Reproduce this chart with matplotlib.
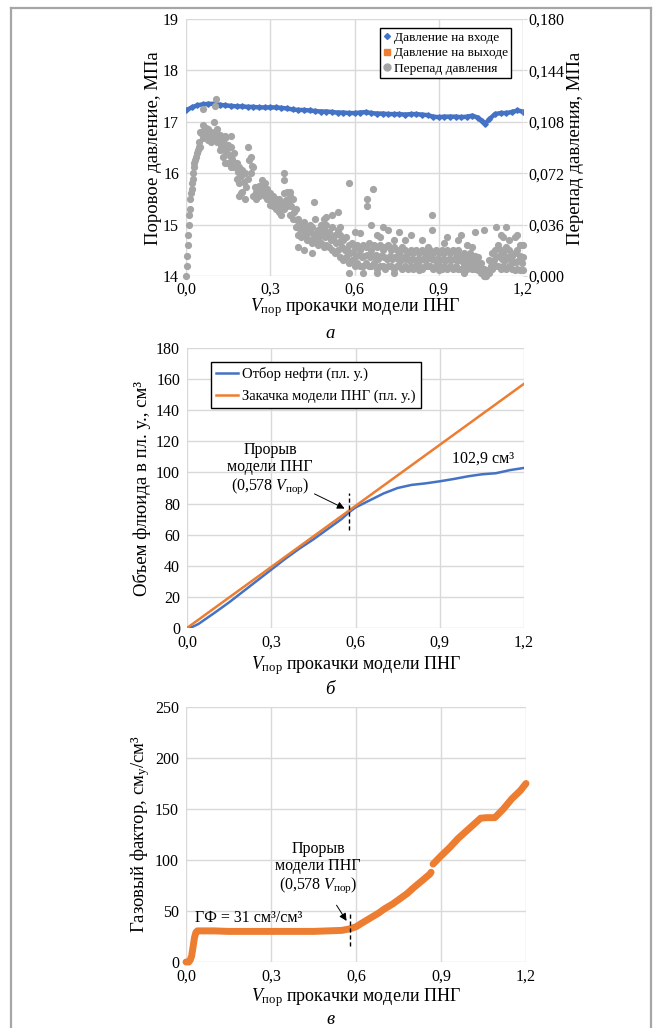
import numpy as np
import matplotlib.pyplot as plt
from matplotlib.lines import Line2D

plt.rcParams['font.family'] = ['Liberation Serif', 'DejaVu Serif']
plt.rcParams['mathtext.fontset'] = 'custom'
plt.rcParams['mathtext.rm'] = 'Liberation Serif'
plt.rcParams['mathtext.it'] = 'Liberation Serif:italic'

W, H = 653, 1028
BLUE = '#4472C4'
ORANGE = '#ED7D31'
GRAY = '#A5A5A5'
GRID = '#D9D9D9'

# ---- panel a: inlet pressure (left axis, MPa) ----
inlet_x = [0.00, 0.02, 0.04, 0.06, 0.08, 0.10, 0.12, 0.14, 0.16, 0.18,
           0.20, 0.22, 0.24, 0.26, 0.28, 0.30, 0.32, 0.34, 0.36, 0.38,
           0.40, 0.42, 0.44, 0.46, 0.48, 0.50, 0.52, 0.54, 0.56, 0.58,
           0.60, 0.62, 0.64, 0.66, 0.68, 0.70, 0.72, 0.74, 0.76, 0.78,
           0.80, 0.82, 0.84, 0.86, 0.88, 0.90, 0.92, 0.94, 0.96, 0.98,
           1.00, 1.02, 1.04, 1.055, 1.065, 1.08, 1.10, 1.12, 1.14, 1.16,
           1.18, 1.20]
inlet_p = [17.22, 17.28, 17.32, 17.34, 17.35, 17.35, 17.33, 17.32, 17.31, 17.30,
           17.30, 17.29, 17.29, 17.28, 17.28, 17.28, 17.28, 17.27, 17.26, 17.24,
           17.23, 17.23, 17.22, 17.21, 17.20, 17.20, 17.19, 17.18, 17.18, 17.17,
           17.17, 17.18, 17.19, 17.17, 17.16, 17.16, 17.15, 17.15, 17.15, 17.14,
           17.15, 17.15, 17.14, 17.13, 17.10, 17.09, 17.10, 17.10, 17.10, 17.09,
           17.10, 17.12, 17.08, 17.01, 16.96, 17.05, 17.15, 17.17, 17.17, 17.19,
           17.22, 17.20]

# ---- panel a: pressure drop (right axis, MPa) ----
drop_start_x = [0.000, 0.002, 0.004, 0.006, 0.008, 0.010, 0.012, 0.014, 0.016, 0.018,
                0.020, 0.022, 0.024, 0.026, 0.028, 0.030, 0.033, 0.036, 0.039, 0.042,
                0.045, 0.048]
drop_start = [0.000, 0.007, 0.014, 0.022, 0.029, 0.036, 0.043, 0.047, 0.054, 0.058,
              0.061, 0.065, 0.068, 0.072, 0.076, 0.079, 0.081, 0.083, 0.086, 0.088,
              0.090, 0.094]

# upper edge of the dense band, x = 0.05 ... 1.20 step 0.01
drop_hi = [0.101, 0.106, 0.104, 0.103, 0.101, 0.108, 0.103, 0.099, 0.094, 0.097,
           0.090, 0.090, 0.086, 0.079, 0.076, 0.074, 0.072, 0.090, 0.083, 0.076,
           0.059, 0.063, 0.067, 0.065, 0.061, 0.058, 0.056, 0.054, 0.054, 0.052,
           0.058, 0.059, 0.056, 0.054, 0.047, 0.040, 0.036, 0.038, 0.034, 0.036,
           0.034, 0.040, 0.032, 0.036, 0.032, 0.036, 0.031, 0.034, 0.029, 0.032,
           0.029, 0.025, 0.027, 0.022, 0.023, 0.020, 0.022, 0.018, 0.022, 0.020,
           0.023, 0.018, 0.022, 0.020, 0.022, 0.018, 0.020, 0.022, 0.018, 0.020,
           0.018, 0.016, 0.020, 0.018, 0.016, 0.018, 0.016, 0.018, 0.016, 0.018,
           0.016, 0.020, 0.018, 0.016, 0.018, 0.016, 0.018, 0.016, 0.018, 0.016,
           0.018, 0.016, 0.018, 0.014, 0.016, 0.014, 0.016, 0.014, 0.014, 0.013,
           0.009, 0.005, 0.004, 0.011, 0.016, 0.018, 0.022, 0.018, 0.016, 0.020,
           0.018, 0.014, 0.016, 0.018, 0.014, 0.013]
# lower edge of the band, same x
drop_lo = [0.090, 0.097, 0.099, 0.095, 0.094, 0.097, 0.094, 0.088, 0.083, 0.079,
           0.079, 0.076, 0.076, 0.068, 0.065, 0.059, 0.054, 0.068, 0.072, 0.056,
           0.054, 0.056, 0.059, 0.056, 0.054, 0.050, 0.049, 0.047, 0.045, 0.043,
           0.047, 0.049, 0.043, 0.040, 0.034, 0.029, 0.027, 0.029, 0.025, 0.025,
           0.023, 0.025, 0.022, 0.023, 0.020, 0.022, 0.020, 0.018, 0.016, 0.018,
           0.013, 0.011, 0.013, 0.009, 0.011, 0.007, 0.009, 0.007, 0.007, 0.009,
           0.007, 0.007, 0.009, 0.005, 0.007, 0.007, 0.005, 0.007, 0.007, 0.005,
           0.007, 0.007, 0.005, 0.007, 0.005, 0.007, 0.005, 0.007, 0.007, 0.005,
           0.007, 0.007, 0.007, 0.005, 0.007, 0.007, 0.005, 0.007, 0.005, 0.007,
           0.005, 0.007, 0.005, 0.005, 0.007, 0.005, 0.007, 0.005, 0.005, 0.004,
           0.002, 0.000, 0.000, 0.002, 0.005, 0.007, 0.007, 0.005, 0.007, 0.005,
           0.007, 0.005, 0.004, 0.005, 0.004, 0.004]
# middle of the band, x = 0.055 ... 1.195 step 0.01
drop_mid = [0.100, 0.102, 0.100, 0.098, 0.099, 0.101, 0.097, 0.091, 0.088, 0.086,
            0.084, 0.082, 0.079, 0.073, 0.070, 0.066, 0.062, 0.081, 0.077, 0.062,
            0.057, 0.060, 0.063, 0.060, 0.057, 0.054, 0.052, 0.050, 0.049, 0.050,
            0.053, 0.052, 0.049, 0.045, 0.039, 0.033, 0.032, 0.032, 0.030, 0.031,
            0.029, 0.030, 0.027, 0.029, 0.027, 0.028, 0.025, 0.026, 0.023, 0.024,
            0.020, 0.018, 0.019, 0.016, 0.017, 0.014, 0.015, 0.013, 0.014, 0.015,
            0.013, 0.014, 0.015, 0.012, 0.014, 0.013, 0.012, 0.014, 0.012, 0.013,
            0.012, 0.011, 0.013, 0.012, 0.011, 0.012, 0.011, 0.012, 0.011, 0.012,
            0.011, 0.013, 0.012, 0.011, 0.012, 0.011, 0.012, 0.011, 0.012, 0.011,
            0.012, 0.011, 0.011, 0.010, 0.011, 0.010, 0.011, 0.010, 0.009, 0.008,
            0.005, 0.002, 0.003, 0.007, 0.011, 0.013, 0.014, 0.012, 0.011, 0.013,
            0.012, 0.010, 0.010, 0.011, 0.009]
# scattered single points
drop_out_x = [0.108, 0.104, 0.062, 0.14, 0.16, 0.15, 0.19, 0.196, 0.35, 0.35,
              0.37, 0.457, 0.58, 0.54, 0.50, 0.49, 0.52, 0.643, 0.643, 0.667,
              0.66, 0.70, 0.72, 0.76, 0.80, 0.875, 0.875, 0.93, 0.97, 0.98,
              1.03, 1.06, 1.105, 1.14, 1.13, 1.17, 1.19, 0.40, 0.42, 0.45,
              0.58, 0.63, 0.68, 0.74, 0.83, 0.90, 0.99, 1.065, 0.55, 0.60,
              0.62, 0.68, 0.69, 0.74, 0.78, 0.84, 0.92, 1.00, 1.02, 1.12,
              1.15, 1.18, 1.20]
drop_out = [0.124, 0.119, 0.117, 0.098, 0.098, 0.092, 0.056, 0.058, 0.072, 0.067,
            0.059, 0.052, 0.065, 0.045, 0.041, 0.040, 0.043, 0.054, 0.049, 0.061,
            0.036, 0.034, 0.032, 0.031, 0.029, 0.043, 0.032, 0.027, 0.025, 0.029,
            0.031, 0.032, 0.034, 0.034, 0.027, 0.027, 0.022, 0.020, 0.018, 0.016,
            0.002, 0.002, 0.002, 0.002, 0.004, 0.004, 0.002, 0.000, 0.034, 0.031,
            0.030, 0.029, 0.027, 0.025, 0.025, 0.025, 0.023, 0.022, 0.020, 0.029,
            0.025, 0.029, 0.022]

# ---- panel b: cumulative volumes, cm3 ----
oil_x = [0.0, 0.02, 0.04, 0.06, 0.08, 0.10, 0.15, 0.20, 0.25, 0.30, 0.35, 0.40,
         0.45, 0.50, 0.55, 0.578, 0.60, 0.65, 0.70, 0.75, 0.80, 0.85, 0.90,
         0.95, 1.00, 1.05, 1.10, 1.15, 1.20]
oil_v = [0.0, 0.8, 2.5, 5.0, 7.5, 10.0, 16.5, 23.5, 30.5, 37.5, 44.5, 51.0,
         57.0, 63.5, 70.0, 74.5, 77.5, 82.0, 86.5, 90.0, 92.0, 93.0, 94.3,
         95.8, 97.5, 98.8, 99.5, 101.5, 102.9]
inj_x = [0.0, 1.2]
inj_v = [0.0, 157.0]

# ---- panel c: gas-oil ratio, cm3/cm3 ----
gor_x = [0.0, 0.005, 0.01, 0.015, 0.02, 0.025, 0.03, 0.035, 0.04, 0.05, 0.10,
         0.15, 0.20, 0.25, 0.30, 0.35, 0.40, 0.45, 0.50, 0.55, 0.578, 0.60,
         0.62, 0.65, 0.68, 0.70, 0.73, 0.75, 0.78, 0.80, 0.83, 0.86, 0.865,
         np.nan, 0.872, 0.90, 0.93, 0.96, 1.00, 1.02, 1.04, 1.06, 1.09, 1.12,
         1.15, 1.18, 1.20]
gor = [0, 0, 0, 2, 6, 15, 24, 29, 30.5, 30.5, 30.5,
       30, 30, 30, 30, 30, 30, 30, 30.5, 31, 32.5, 34.5,
       38, 43, 48, 52, 57, 61, 67, 72, 79, 86, 88,
       np.nan, 96, 104, 112, 121, 131, 136, 141, 141.5, 141.5, 150,
       160, 168, 175]

breakthrough = 0.578
x_ticks = [0.0, 0.3, 0.6, 0.9, 1.2]

XLABEL = r'$V_{\mathregular{пор}}$ прокачки модели ПНГ'
BT_TEXT = 'Прорыв\nмодели ПНГ\n' + r'(0,578 $V_{\mathregular{пор}}$)'


def fx(px):
    return px / W


def fy(py):
    return 1 - py / H


def make_axes(l, r, t, b):
    ax = fig.add_axes([fx(l), fy(b), fx(r - l), (b - t) / H])
    for s in ax.spines.values():
        s.set_visible(False)
    ax.grid(True, color=GRID, lw=1.0)
    ax.set_axisbelow(True)
    ax.tick_params(length=0, labelsize=11.5)
    ax.tick_params(axis='x', pad=5)
    ax.tick_params(axis='y', pad=5)
    ax.set_xlim(0, 1.2)
    ax.set_xticks(x_ticks)
    ax.set_xticklabels([f'{v:.1f}'.replace('.', ',') for v in x_ticks])
    return ax


fig = plt.figure(figsize=(W / 100, H / 100), dpi=100)

# outer frame
fr = dict(color='#A6A6A6', lw=1.6, transform=fig.transFigure)
fig.add_artist(Line2D([fx(10.5), fx(10.5)], [fy(7.5), 0], **fr))
fig.add_artist(Line2D([fx(10.5), fx(651)], [fy(7.5), fy(7.5)], **fr))
fig.add_artist(Line2D([fx(651), fx(651)], [fy(7.5), 0], **fr))

# ---------------- panel a ----------------
ax = make_axes(186, 523, 19, 276)
ax.tick_params(axis='x', pad=4)
ax.set_ylim(14, 19)
ax.set_yticks(range(14, 20))
ax.plot(inlet_x, inlet_p, color=BLUE, lw=3.2, marker='D', ms=2.8, zorder=3)

ax2 = ax.twinx()
for s in ax2.spines.values():
    s.set_visible(False)
ax2.set_ylim(0, 0.18)
r_ticks = [0.0, 0.036, 0.072, 0.108, 0.144, 0.18]
ax2.set_yticks(r_ticks)
ax2.set_yticklabels([f'{v:.3f}'.replace('.', ',') for v in r_ticks])
ax2.tick_params(length=3, color=GRID, labelsize=11.5, pad=1)
ax2.plot([1.2, 1.2], [0, 0.18], color=GRID, lw=1.0)

hi_x = np.round(0.05 + 0.01 * np.arange(len(drop_hi)), 3)
mid_x = np.round(0.055 + 0.01 * np.arange(len(drop_mid)), 3)
sc = dict(s=27, color=GRAY, linewidths=0, zorder=2, clip_on=False)
ax2.scatter(drop_start_x, drop_start, **sc)
ax2.scatter(hi_x, drop_hi, **sc)
ax2.scatter(hi_x, drop_lo, **sc)
ax2.scatter(mid_x, drop_mid, **sc)
ax2.scatter(drop_out_x, drop_out, **sc)

handles = [Line2D([], [], color=BLUE, marker='D', ms=3, ls='none'),
           Line2D([], [], color=ORANGE, marker='s', ms=4, ls='none'),
           Line2D([], [], color=GRAY, marker='o', ms=5, ls='none')]
leg = ax2.legend(handles, ['Давление на входе', 'Давление на выходе', 'Перепад давления'],
                 loc='upper right', bbox_to_anchor=(0.965, 0.965), fontsize=9.6,
                 frameon=True, fancybox=False, edgecolor='black', framealpha=1,
                 handlelength=0.5, handletextpad=0.25, borderpad=0.25,
                 labelspacing=0.25, borderaxespad=0)
leg.get_frame().set_linewidth(1.0)

fig.text(fx(354.5), fy(311), XLABEL, ha='center', va='baseline', fontsize=13)
fig.text(fx(153), fy(148), 'Поровое давление, МПа', rotation=90,
         ha='center', va='center', fontsize=13.5)
fig.text(fx(575), fy(148), 'Перепад давления, МПа', rotation=90,
         ha='center', va='center', fontsize=13.5)
fig.text(fx(330), fy(334), 'а', ha='center', va='center', fontsize=13.5, style='italic')

# ---------------- panel b ----------------
bx = make_axes(187, 524, 348, 628)
bx.set_ylim(0, 180)
bx.set_yticks(range(0, 181, 20))
bx.plot(oil_x, oil_v, color=BLUE, lw=1.8, label='Отбор нефти (пл. у.)')
bx.plot(inj_x, inj_v, color=ORANGE, lw=1.8, label='Закачка модели ПНГ (пл. у.)')
leg = bx.legend(loc='upper left', bbox_to_anchor=(0.071, 0.95), fontsize=10.5,
                frameon=True, fancybox=False, edgecolor='black', framealpha=1,
                handlelength=1.5, handletextpad=0.3, borderpad=0.35,
                labelspacing=0.55, borderaxespad=0)
leg.get_frame().set_linewidth(1.0)
bx.plot([breakthrough, breakthrough], [63, 87], color='black', lw=1.0,
        ls=(0, (3, 2)), zorder=4)
bx.text(0.296, 102, BT_TEXT, ha='center', va='center', fontsize=11.5, linespacing=1.1)
bx.annotate('', xy=(0.570, 76), xytext=(0.445, 87),
            arrowprops=dict(arrowstyle='-|>', color='black', lw=0.7, mutation_scale=11))
bx.text(1.054, 109, '102,9 см³', ha='center', va='center', fontsize=11.5)

fig.text(fx(355.5), fy(669), XLABEL, ha='center', va='baseline', fontsize=13)
fig.text(fx(142), fy(488), 'Объем флюида в пл. у., см³', rotation=90,
         ha='center', va='center', fontsize=13.5)
fig.text(fx(330), fy(689), 'б', ha='center', va='center', fontsize=13.5, style='italic')

# ---------------- panel c ----------------
cx = make_axes(186, 526, 707, 962)
cx.set_ylim(0, 250)
cx.set_yticks(range(0, 251, 50))
cx.plot(gor_x, gor, color=ORANGE, lw=5.0, solid_capstyle='round',
        solid_joinstyle='round', clip_on=False)
cx.plot([breakthrough, breakthrough], [16, 49], color='black', lw=1.0,
        ls=(0, (3, 2)), zorder=4)
cx.text(0.466, 92, BT_TEXT, ha='center', va='center', fontsize=11.5, linespacing=1.1)
cx.annotate('', xy=(0.572, 38), xytext=(0.526, 58),
            arrowprops=dict(arrowstyle='-|>', color='black', lw=0.7, mutation_scale=11))
cx.text(0.032, 43, 'ГФ = 31 см³/см³', ha='left', va='center', fontsize=11.5)

fig.text(fx(356), fy(1001), XLABEL, ha='center', va='baseline', fontsize=13)
fig.text(fx(140), fy(834), r'Газовый фактор, см$_{\mathregular{у}}$/см³', rotation=90,
         ha='center', va='center', fontsize=13.5)
fig.text(fx(330), fy(1019), 'в', ha='center', va='center', fontsize=13.5, style='italic')

fig.savefig('out.png', dpi=100)
